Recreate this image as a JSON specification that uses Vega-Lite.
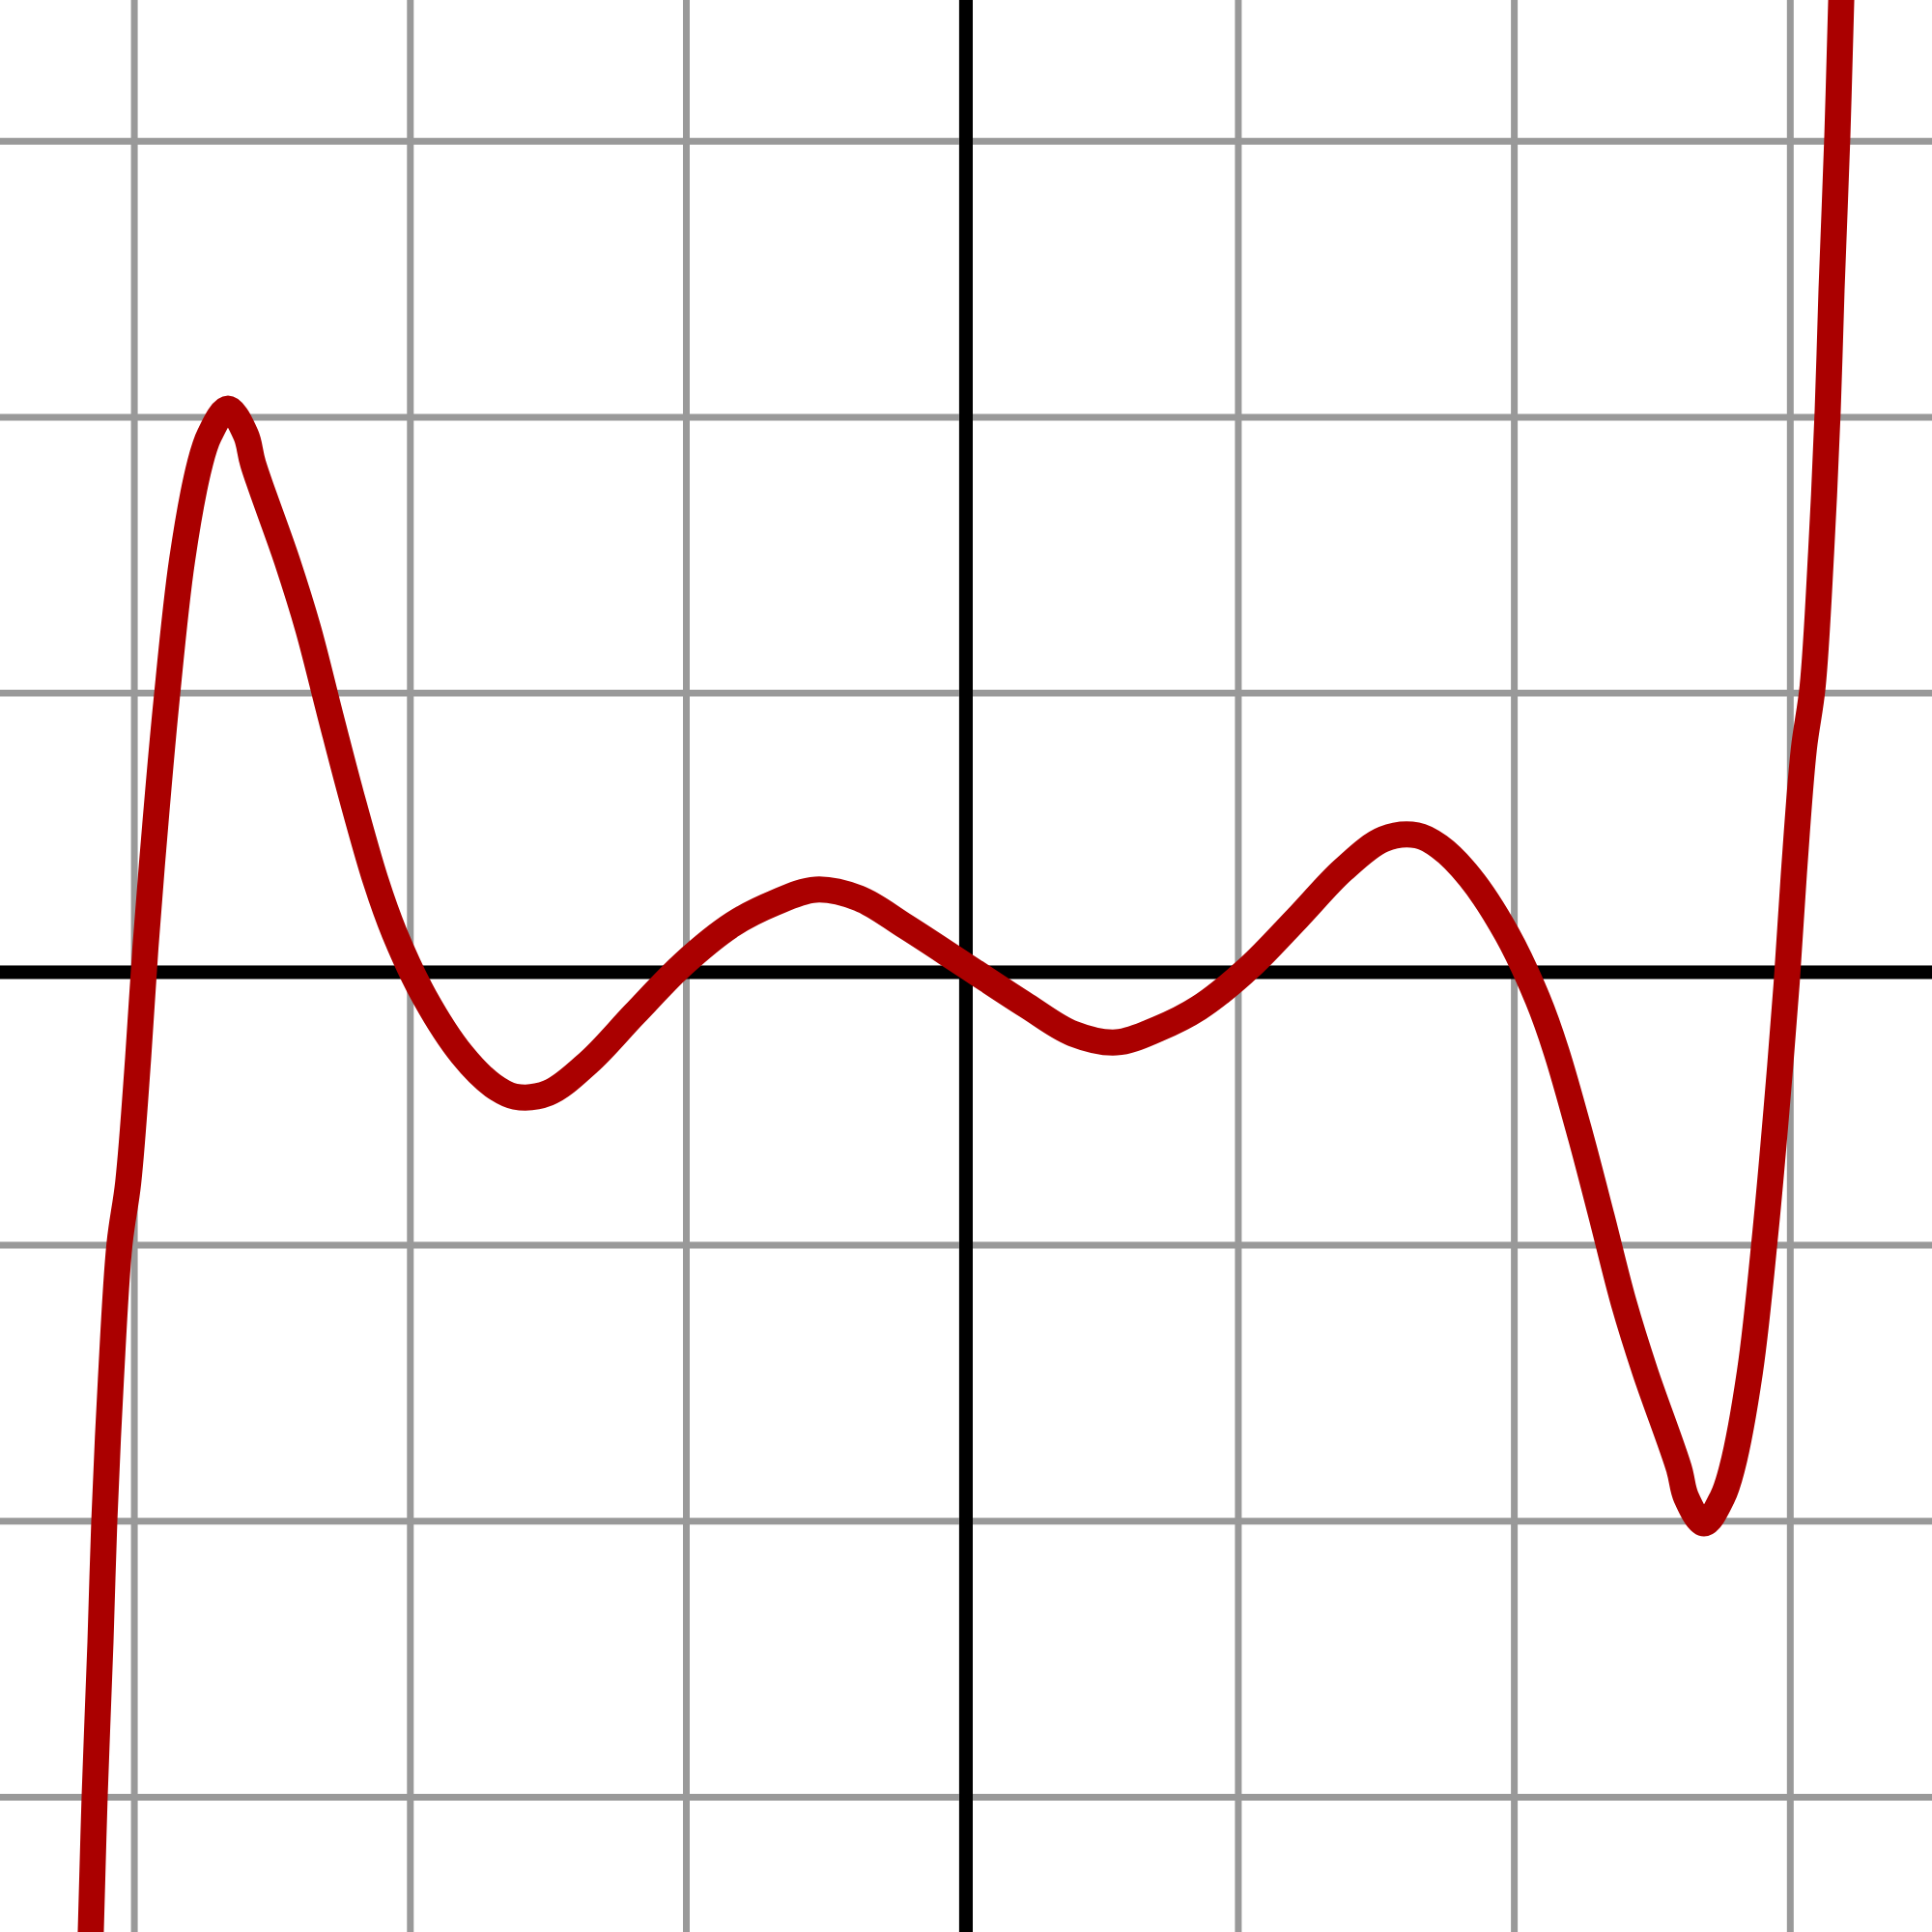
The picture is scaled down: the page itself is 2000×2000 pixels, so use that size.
{
  "$schema": "https://vega.github.io/schema/vega-lite/v6.json",
  "width": 2000,
  "height": 2000,
  "autosize": {"type": "none"},
  "padding": 0,
  "background": "white",
  "config": {"view": {"stroke": null}},
  "datasets": {
    "grid": [{"v": -3}, {"v": -2}, {"v": -1}, {"v": 0}, {"v": 1}, {"v": 2}, {"v": 3}],
    "axes": [{"ax": 0.0133, "ay": -0.0116}],
    "curve": [
      {"x": -3.1649, "y": -3.6636}, {"x": -3.1579, "y": -3.4886}, {"x": -3.1439, "y": -2.9986},
      {"x": -3.1228, "y": -2.4386}, {"x": -3.1089, "y": -2.0011}, {"x": -3.0851, "y": -1.4886},
      {"x": -3.0539, "y": -0.9975}, {"x": -3.0224, "y": -0.7742}, {"x": -2.9867, "y": -0.328},
      {"x": -2.9601, "y": 0.0746}, {"x": -2.9244, "y": 0.5205}, {"x": -2.8841, "y": 0.9671},
      {"x": -2.8271, "y": 1.4816}, {"x": -2.7623, "y": 1.8316}, {"x": -2.7273, "y": 1.9366},
      {"x": -2.6608, "y": 2.0312}, {"x": -2.5961, "y": 1.9366}, {"x": -2.5698, "y": 1.8316},
      {"x": -2.4473, "y": 1.4816}, {"x": -2.3707, "y": 1.2349}, {"x": -2.2905, "y": 0.9223},
      {"x": -2.2146, "y": 0.6321}, {"x": -2.1253, "y": 0.3196}, {"x": -2.0581, "y": 0.132},
      {"x": -1.9468, "y": -0.104}, {"x": -1.8127, "y": -0.3098}, {"x": -1.7011, "y": -0.4214},
      {"x": -1.6206, "y": -0.4617}, {"x": -1.5002, "y": -0.4484}, {"x": -1.3528, "y": -0.3367},
      {"x": -1.1876, "y": -0.1624}, {"x": -1.0091, "y": 0.0207}, {"x": -0.8306, "y": 0.1635},
      {"x": -0.6832, "y": 0.2391}, {"x": -0.5313, "y": 0.2884}, {"x": -0.3752, "y": 0.2569},
      {"x": -0.2055, "y": 0.1544}, {"x": 0.0133, "y": 0.0116},
      {"x": 0.2321, "y": -0.1313}, {"x": 0.4018, "y": -0.2338}, {"x": 0.5579, "y": -0.2653},
      {"x": 0.7098, "y": -0.216}, {"x": 0.8572, "y": -0.1404}, {"x": 1.0357, "y": 0.0024},
      {"x": 1.2142, "y": 0.1855}, {"x": 1.3794, "y": 0.3598}, {"x": 1.5268, "y": 0.4715},
      {"x": 1.6472, "y": 0.4848}, {"x": 1.7277, "y": 0.4445}, {"x": 1.8393, "y": 0.3329},
      {"x": 1.9734, "y": 0.1271}, {"x": 2.0847, "y": -0.1089}, {"x": 2.1519, "y": -0.2965},
      {"x": 2.2412, "y": -0.609}, {"x": 2.3171, "y": -0.8992}, {"x": 2.3973, "y": -1.2118},
      {"x": 2.4739, "y": -1.4585}, {"x": 2.5964, "y": -1.8085}, {"x": 2.6227, "y": -1.9135},
      {"x": 2.6874, "y": -2.0081}, {"x": 2.7539, "y": -1.9135}, {"x": 2.7889, "y": -1.8085},
      {"x": 2.8537, "y": -1.4585}, {"x": 2.9107, "y": -0.944}, {"x": 2.951, "y": -0.4974},
      {"x": 2.9867, "y": -0.0515}, {"x": 3.0133, "y": 0.3511}, {"x": 3.049, "y": 0.7973},
      {"x": 3.0805, "y": 1.0206}, {"x": 3.1117, "y": 1.5117}, {"x": 3.1355, "y": 2.0242},
      {"x": 3.1494, "y": 2.4617}, {"x": 3.1705, "y": 3.0217}, {"x": 3.1845, "y": 3.5117},
      {"x": 3.1915, "y": 3.6867}
    ]
  },
  "layer": [
    {
      "data": {"name": "grid"},
      "mark": {"type": "rule", "color": "#999999", "strokeWidth": 7, "clip": true},
      "encoding": {
        "x": {"field": "v", "type": "quantitative", "scale": {"domain": [-3.4868, 3.5134], "nice": false, "zero": false}, "axis": null}
      }
    },
    {
      "data": {"name": "grid"},
      "mark": {"type": "rule", "color": "#999999", "strokeWidth": 7, "clip": true},
      "encoding": {
        "y": {"field": "v", "type": "quantitative", "scale": {"domain": [-3.4886, 3.5117], "nice": false, "zero": false}, "axis": null}
      }
    },
    {
      "data": {"name": "axes"},
      "mark": {"type": "rule", "color": "#000000", "strokeWidth": 14, "clip": true},
      "encoding": {
        "x": {"field": "ax", "type": "quantitative"}
      }
    },
    {
      "data": {"name": "axes"},
      "mark": {"type": "rule", "color": "#000000", "strokeWidth": 14, "clip": true},
      "encoding": {
        "y": {"field": "ay", "type": "quantitative"}
      }
    },
    {
      "data": {"name": "curve"},
      "mark": {"type": "line", "color": "#aa0000", "strokeWidth": 27, "interpolate": "catmull-rom", "strokeJoin": "round", "clip": true},
      "encoding": {
        "x": {"field": "x", "type": "quantitative"},
        "y": {"field": "y", "type": "quantitative"}
      }
    }
  ]
}
